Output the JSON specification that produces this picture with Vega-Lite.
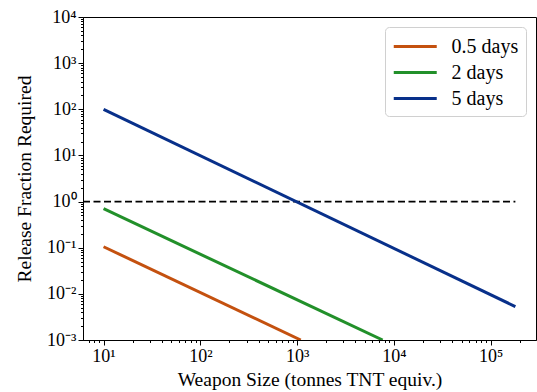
{
  "$schema": "https://vega.github.io/schema/vega-lite/v6.json",
  "autosize": {"type": "none"},
  "width": 453,
  "height": 323,
  "padding": {"left": 83, "top": 17, "right": 1, "bottom": 52},
  "background": "white",
  "config": {
    "view": {"stroke": "black", "strokeWidth": 1},
    "font": "Liberation Serif",
    "axis": {
      "grid": false,
      "domainColor": "black",
      "tickColor": "black",
      "labelColor": "black",
      "titleColor": "black",
      "labelFont": "Liberation Serif",
      "titleFont": "Liberation Serif",
      "labelFontSize": 18,
      "titleFontSize": 19.5,
      "titleFontWeight": "normal"
    }
  },
  "datasets": {
    "series": [
      {"series": "0.5 days", "x": 10, "y": 0.105},
      {"series": "0.5 days", "x": 1090, "y": 0.001},
      {"series": "2 days", "x": 10, "y": 0.7},
      {"series": "2 days", "x": 7650, "y": 0.001},
      {"series": "5 days", "x": 10, "y": 100},
      {"series": "5 days", "x": 180000, "y": 0.0053}
    ],
    "threshold": [
      {"x": 6.13, "x2": 180000, "y": 1}
    ]
  },
  "layer": [
    {
      "data": {"name": "threshold"},
      "mark": {"type": "rule", "color": "black", "strokeWidth": 1.7, "strokeDash": [7, 3.5]},
      "encoding": {
        "x": {"field": "x", "type": "quantitative", "scale": {"type": "log", "domain": [6.13, 294000], "nice": false}},
        "x2": {"field": "x2"},
        "y": {"field": "y", "type": "quantitative", "scale": {"type": "log", "domain": [0.001, 10000], "nice": false}}
      }
    },
    {
      "data": {"name": "series"},
      "mark": {"type": "line", "strokeWidth": 3, "clip": true},
      "encoding": {
        "x": {
          "field": "x", "type": "quantitative",
          "scale": {"type": "log", "domain": [6.13, 294000], "nice": false},
          "axis": {
            "title": "Weapon Size (tonnes TNT equiv.)",
            "values": [7,8,9,10,20,30,40,50,60,70,80,90,100,200,300,400,500,600,700,800,900,1000,2000,3000,4000,5000,6000,7000,8000,9000,10000,20000,30000,40000,50000,60000,70000,80000,90000,100000,200000],
            "labelExpr": "datum.value == 10 ? '10¹' : datum.value == 100 ? '10²' : datum.value == 1000 ? '10³' : datum.value == 10000 ? '10⁴' : datum.value == 100000 ? '10⁵' : ''",
            "tickSize": {"condition": {"test": "indexof([10,100,1000,10000,100000], datum.value) >= 0", "value": 5}, "value": 2.5},
            "labelPadding": 2,
            "titlePadding": 5,
            "labelFlush": false,
            "labelOverlap": false
          }
        },
        "y": {
          "field": "y", "type": "quantitative",
          "scale": {"type": "log", "domain": [0.001, 10000], "nice": false},
          "axis": {
            "title": "Release Fraction Required",
            "values": [0.001,0.002,0.003,0.004,0.005,0.006,0.007,0.008,0.009,0.01,0.02,0.03,0.04,0.05,0.06,0.07,0.08,0.09,0.1,0.2,0.3,0.4,0.5,0.6,0.7,0.8,0.9,1,2,3,4,5,6,7,8,9,10,20,30,40,50,60,70,80,90,100,200,300,400,500,600,700,800,900,1000,2000,3000,4000,5000,6000,7000,8000,9000,10000],
            "labelExpr": "datum.value == 0.001 ? '10⁻³' : datum.value == 0.01 ? '10⁻²' : datum.value == 0.1 ? '10⁻¹' : datum.value == 1 ? '10⁰' : datum.value == 10 ? '10¹' : datum.value == 100 ? '10²' : datum.value == 1000 ? '10³' : datum.value == 10000 ? '10⁴' : ''",
            "tickSize": {"condition": {"test": "indexof([0.001,0.01,0.1,1,10,100,1000,10000], datum.value) >= 0", "value": 5}, "value": 2.5},
            "labelPadding": 2,
            "titlePadding": 12,
            "labelFlush": false,
            "labelOverlap": false
          }
        },
        "color": {
          "field": "series", "type": "nominal",
          "scale": {"domain": ["0.5 days", "2 days", "5 days"], "range": ["#c4510f", "#22902a", "#08308a"]},
          "legend": {
            "title": null,
            "orient": "top-right",
            "offset": 10,
            "symbolType": "M-1,0H3",
            "symbolSize": 462,
            "symbolStrokeWidth": 3,
            "symbolFillColor": "transparent",
            "labelFont": "Liberation Serif",
            "labelFontSize": 20,
            "labelColor": "black",
            "labelOffset": 34.5,
            "fillColor": "white",
            "strokeColor": "#d0d0d0",
            "cornerRadius": 4,
            "padding": 7,
            "rowPadding": 3
          }
        }
      }
    }
  ]
}
